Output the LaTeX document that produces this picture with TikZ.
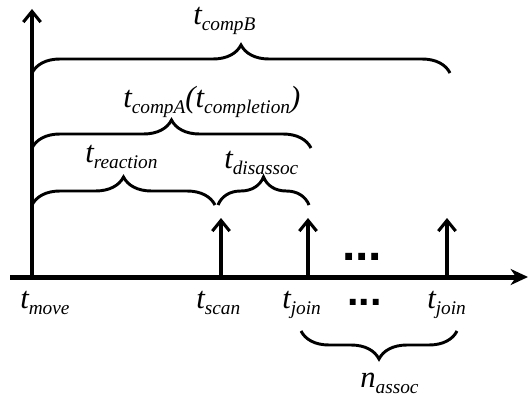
\documentclass[tikz,border=0pt]{standalone}
\usepackage{fontspec}
\setmainfont{Liberation Serif}
\newfontfamily\dotfont{Liberation Sans}
\usetikzlibrary{arrows.meta,decorations.pathreplacing}
\newcommand\subt[1]{\raisebox{-4.5pt}{\fontsize{14.5}{16}\selectfont\itshape #1}}
\newcommand\tl[2]{{\fontsize{23}{26}\selectfont\itshape #1}\subt{#2}}
\tikzset{
  lab/.style={inner sep=0pt,anchor=base west},
  axis/.style={line width=3.75pt,-{Stealth[length=13pt,width=12pt,inset=4pt]}},
  vaxis/.style={line width=2.3pt,-{Straight Barb[length=8pt,width=13pt]}},
  tick/.style={line width=2.3pt,-{Straight Barb[length=8pt,width=13pt]}},
  br/.style={line width=2.2pt,decorate,decoration={brace,amplitude=21pt}},
  dots/.style={inner sep=0pt,anchor=base west,font=\dotfont\fontsize{36}{38}\selectfont\bfseries}
}
\begin{document}
\begin{tikzpicture}[x=0.75pt,y=-0.75pt]
\useasboundingbox (0,0) rectangle (531,399);
% axes
\coordinate (xs) at (10,277);
\coordinate (xe) at (528,277);
\coordinate (o) at (32,277);
\coordinate (ytop) at (32,9);
\draw[axis] (xs) -- (xe);
\draw[vaxis] (o) -- (ytop);
% ticks
\coordinate (scan) at (221,277);
\coordinate (scantip) at (221,218);
\coordinate (join) at (308,277);
\coordinate (jointip) at (308,218);
\coordinate (joinb) at (447,277);
\coordinate (joinbtip) at (447,218);
\draw[tick] (scan) -- (scantip);
\draw[tick] (join) -- (jointip);
\draw[tick] (joinb) -- (joinbtip);
% braces
\coordinate (bBa) at (32,73);  \coordinate (bBb) at (450,73);
\coordinate (bAa) at (32,148); \coordinate (bAb) at (311,148);
\coordinate (bRa) at (32,205); \coordinate (bRb) at (215,205);
\coordinate (bDa) at (218,205); \coordinate (bDb) at (309,205);
\coordinate (bNa) at (457,331); \coordinate (bNb) at (301,331);
\draw[br] (bBa) -- (bBb);
\draw[br] (bAa) -- (bAb);
\draw[br] (bRa) -- (bRb);
\draw[br] (bDa) -- (bDb);
\draw[br] (bNa) -- (bNb);
% labels
\node[lab] (lB) at (193,25) {\tl{t}{compB}};
\node[lab] (lA) at (123,108) {\tl{t}{compA}\tl{(t}{completion}{\fontsize{23}{26}\selectfont\itshape )}};
\node[lab] (lR) at (85,162) {\tl{t}{reaction}};
\node[lab] (lD) at (224,168) {\tl{t}{disassoc}};
\node[lab] (lM) at (20,308) {\tl{t}{move}};
\node[lab] (lS) at (196,308) {\tl{t}{scan}};
\node[lab] (lJ) at (282,308) {\tl{t}{join}};
\node[lab] (lJ2) at (427,308) {\tl{t}{join}};
\node[lab] (lN) at (360,387) {\tl{n}{assoc}};
\node[dots] (d1) at (342,260) {...};
\node[dots,font=\dotfont\fontsize{31}{33}\selectfont\bfseries] (d2) at (347,305) {...};
\end{tikzpicture}
\end{document}
